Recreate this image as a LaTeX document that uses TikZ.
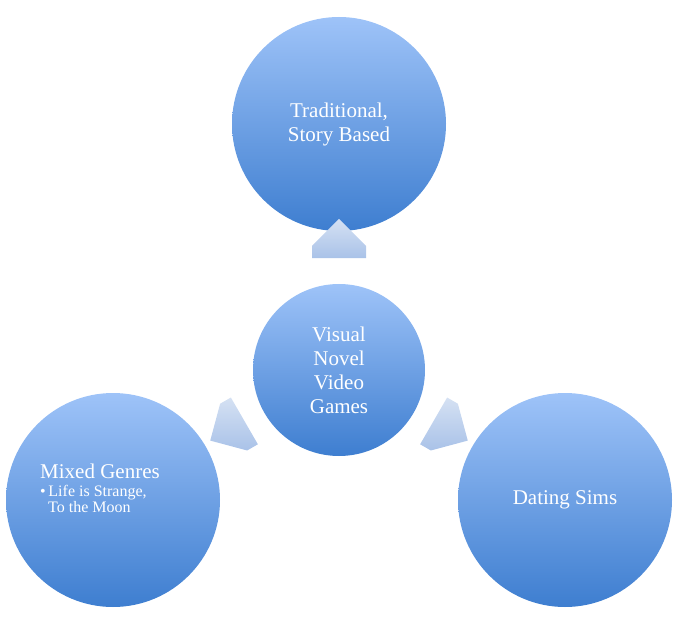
\documentclass[tikz,border=0pt]{standalone}
\usepackage{fontspec}
\setmainfont{Liberation Serif}
\usetikzlibrary{shapes.arrows}
\definecolor{ctop}{HTML}{9EC3F8}
\definecolor{cbot}{HTML}{3E7ED0}
\definecolor{atop}{HTML}{D5E1F3}
\definecolor{abot}{HTML}{A9C2E8}
\tikzset{
 bub/.style={circle,minimum size=#1,inner sep=0pt,top color=ctop,bottom color=cbot,draw=none,text=white,align=center,font=\fontsize{21}{24}\selectfont},
 arr/.style={single arrow,minimum height=36pt,minimum width=56pt,single arrow head extend=0pt,single arrow tip angle=90,shape border rotate=90,top color=atop,bottom color=abot,draw=none,inner sep=6pt}
}
\begin{document}
\begin{tikzpicture}[x=1pt,y=-1pt]
\useasboundingbox (0,0) rectangle (677,617);
\node[bub=214pt] (top) at (339,124) {Traditional,\\Story Based};
\node[bub=172pt] (mid) at (339,370) {Visual\\Novel\\Video\\Games};
\node[bub=214pt] (left) at (113,500) {};
\node[align=left,text=white,anchor=north west,inner sep=0pt] (lt) at (40,464) {{\fontsize{21}{24}\selectfont Mixed Genres}\\[6pt]
 \fontsize{16}{18}\selectfont\textbullet\,Life is Strange,\\\fontsize{16}{18}\selectfont\hspace{8pt}To the Moon};
\node[bub=214pt] (right) at (565,500) {Dating Sims};
\node[arr,rotate=0,minimum height=34pt,minimum width=54pt] (a1) at (339,252) {};
\node[arr,rotate=120,minimum height=34pt,minimum width=54pt] (a2) at (239,424) {};
\node[arr,rotate=-120,minimum height=34pt,minimum width=54pt] (a3) at (439,424) {};
\end{tikzpicture}
\end{document}
